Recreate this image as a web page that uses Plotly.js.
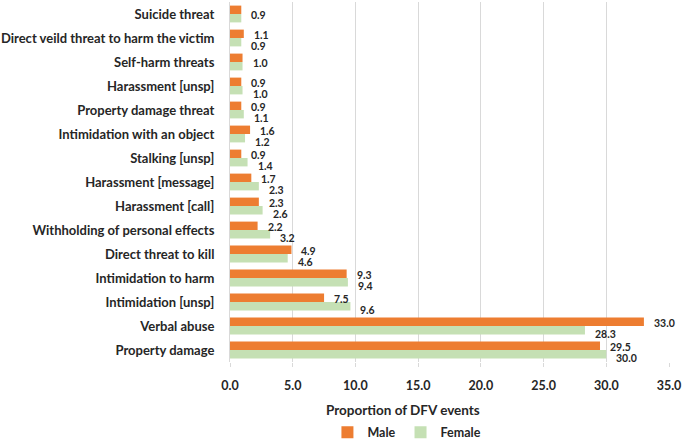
<!DOCTYPE html>
<html>
<head>
<meta charset="utf-8">
<script src="https://cdn.plot.ly/plotly-3.0.1.min.js"></script>
<style>html,body{margin:0;padding:0;background:#fff;}#chart{width:685px;height:442px;}</style>
</head>
<body>
<div id="chart"></div>
<script>
const categories = [
  "Suicide threat",
  "Direct veild threat to harm the victim",
  "Self-harm threats",
  "Harassment [unsp]",
  "Property damage threat",
  "Intimidation with an object",
  "Stalking [unsp]",
  "Harassment [message]",
  "Harassment [call]",
  "Withholding of personal effects",
  "Direct threat to kill",
  "Intimidation to harm",
  "Intimidation [unsp]",
  "Verbal abuse",
  "Property damage"
];
const maleValues   = [0.9, 1.1, 1.0, 0.9, 0.9, 1.6, 0.9, 1.7, 2.3, 2.2, 4.9, 9.3, 7.5, 33.0, 29.5];
const femaleValues = [0.9, 0.9, 1.0, 1.0, 1.1, 1.2, 1.4, 2.3, 2.6, 3.2, 4.6, 9.4, 9.6, 28.3, 30.0];
const xTicks = [0, 5, 10, 15, 20, 25, 30, 35];

const FONT = "Lato, 'Open Sans', sans-serif";
const labelFont = {family: FONT, size: 10.5, color: "#262626", weight: "bold"};

const traces = [
  {
    type: "bar", orientation: "h", name: "Male",
    y: categories, x: maleValues,
    marker: {color: "#ED7D31"}, hoverinfo: "x+y"
  },
  {
    type: "bar", orientation: "h", name: "Female",
    y: categories, x: femaleValues,
    marker: {color: "#C5E0B4"}, hoverinfo: "x+y"
  }
];

// value labels, attached to the data points through the axes
const annotations = [];
categories.forEach((c, i) => {
  const m = maleValues[i], f = femaleValues[i];
  if (m === f) {
    annotations.push({x: m, y: c, xref: "x", yref: "y", text: m.toFixed(1), showarrow: false,
      xanchor: "left", yanchor: "middle", xshift: 8, yshift: -1, font: labelFont});
  } else {
    annotations.push({x: m, y: c, xref: "x", yref: "y", text: m.toFixed(1), showarrow: false,
      xanchor: "left", yanchor: "middle", xshift: 8, yshift: 3, font: labelFont});
    annotations.push({x: f, y: c, xref: "x", yref: "y", text: f.toFixed(1), showarrow: false,
      xanchor: "left", yanchor: "middle", xshift: 8, yshift: -8, font: labelFont});
  }
});
annotations.push({
  xref: "paper", yref: "paper", x: 0.394, y: -0.133, xanchor: "center", yanchor: "middle",
  text: "Proportion of DFV events", showarrow: false,
  font: {family: FONT, size: 13.5, weight: "bold", color: "#262626"}
});

const layout = {
  width: 685, height: 442,
  margin: {l: 230, r: 16, t: 2, b: 80, autoexpand: false},
  paper_bgcolor: "#fff", plot_bgcolor: "#fff",
  barmode: "group", bargap: 0.3, bargroupgap: 0,
  font: {family: FONT, color: "#262626"},
  xaxis: {
    range: [0, 35], tickvals: xTicks, tickformat: ".1f",
    showgrid: true, gridcolor: "#D9D9D9", gridwidth: 1,
    zeroline: false, showline: false,
    ticks: "outside", ticklen: 4, tickcolor: "#D9D9D9",
    tickfont: {size: 12.5, weight: "bold", color: "#262626"},
    ticklabelstandoff: 8
  },
  yaxis: {
    autorange: "reversed", type: "category",
    showgrid: false, zeroline: false, showline: true, linecolor: "#D9D9D9",
    ticks: "", ticklabelstandoff: 12,
    tickfont: {size: 13, weight: "bold", color: "#262626"}
  },
  showlegend: true,
  legend: {
    orientation: "h", xref: "container", yref: "container",
    x: 0.478, xanchor: "left", y: 0.021, yanchor: "middle",
    font: {family: FONT, size: 12.5, weight: "bold", color: "#262626"},
    itemwidth: 30, tracegroupgap: 0
  },
  annotations: annotations
};

Plotly.newPlot("chart", traces, layout, {displayModeBar: false, staticPlot: true});
</script>
</body>
</html>
